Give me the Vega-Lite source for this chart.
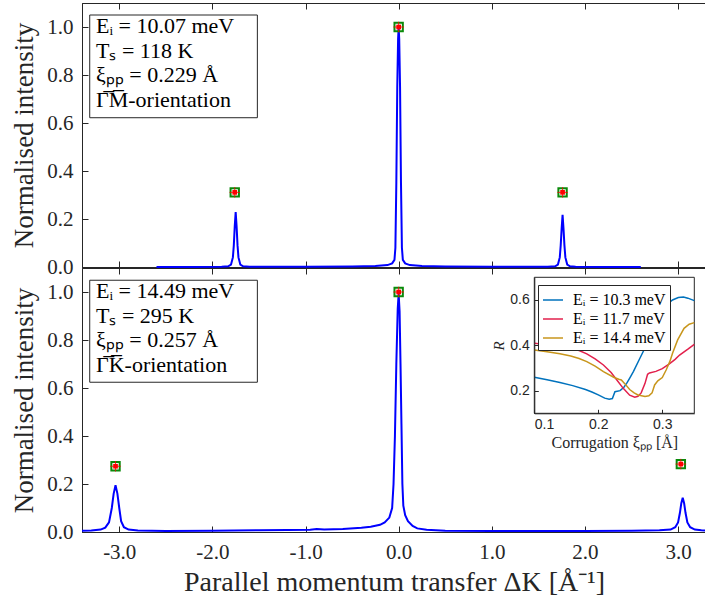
{
  "$schema": "https://vega.github.io/schema/vega-lite/v6.json",
  "background": "white",
  "padding": {"left": 10, "top": 2, "right": 0, "bottom": 0},
  "bounds": "flush",
  "spacing": 1,
  "datasets": {
    "upper": [
      {"k": -2.6, "I": 0}, {"k": -2.2, "I": 0.0005}, {"k": -1.9, "I": 0.001}, {"k": -1.83, "I": 0.003}, {"k": -1.8, "I": 0.01}, {"k": -1.78, "I": 0.04}, {"k": -1.77, "I": 0.09}, {"k": -1.76, "I": 0.17}, {"k": -1.75, "I": 0.229}, {"k": -1.74, "I": 0.17}, {"k": -1.73, "I": 0.09}, {"k": -1.72, "I": 0.04}, {"k": -1.7, "I": 0.01}, {"k": -1.67, "I": 0.003}, {"k": -1.6, "I": 0.001}, {"k": -1.0, "I": 0.001}, {"k": -0.5, "I": 0.002}, {"k": -0.25, "I": 0.004}, {"k": -0.12, "I": 0.008}, {"k": -0.07, "I": 0.015}, {"k": -0.045, "I": 0.03}, {"k": -0.035, "I": 0.08}, {"k": -0.025, "I": 0.35}, {"k": -0.015, "I": 0.75}, {"k": -0.006, "I": 0.95}, {"k": 0, "I": 1.0}, {"k": 0.006, "I": 0.95}, {"k": 0.015, "I": 0.75}, {"k": 0.025, "I": 0.35}, {"k": 0.035, "I": 0.08}, {"k": 0.045, "I": 0.03}, {"k": 0.07, "I": 0.015}, {"k": 0.12, "I": 0.008}, {"k": 0.25, "I": 0.004}, {"k": 0.5, "I": 0.002}, {"k": 1.0, "I": 0.001}, {"k": 1.6, "I": 0.001}, {"k": 1.68, "I": 0.003}, {"k": 1.71, "I": 0.01}, {"k": 1.73, "I": 0.04}, {"k": 1.74, "I": 0.09}, {"k": 1.75, "I": 0.16}, {"k": 1.76, "I": 0.217}, {"k": 1.77, "I": 0.16}, {"k": 1.78, "I": 0.09}, {"k": 1.79, "I": 0.04}, {"k": 1.81, "I": 0.01}, {"k": 1.84, "I": 0.003}, {"k": 1.9, "I": 0.001}, {"k": 2.2, "I": 0.0005}, {"k": 2.6, "I": 0}
    ],
    "lower": [
      {"k": -3.4, "I": 0.005}, {"k": -3.3, "I": 0.006}, {"k": -3.2, "I": 0.01}, {"k": -3.15, "I": 0.018}, {"k": -3.11, "I": 0.04}, {"k": -3.08, "I": 0.1}, {"k": -3.06, "I": 0.16}, {"k": -3.04, "I": 0.195}, {"k": -3.02, "I": 0.16}, {"k": -3.0, "I": 0.1}, {"k": -2.98, "I": 0.045}, {"k": -2.95, "I": 0.02}, {"k": -2.9, "I": 0.01}, {"k": -2.8, "I": 0.006}, {"k": -2.5, "I": 0.004}, {"k": -2.0, "I": 0.005}, {"k": -1.5, "I": 0.007}, {"k": -1.2, "I": 0.008}, {"k": -0.95, "I": 0.009}, {"k": -0.88, "I": 0.012}, {"k": -0.8, "I": 0.01}, {"k": -0.6, "I": 0.013}, {"k": -0.4, "I": 0.018}, {"k": -0.3, "I": 0.022}, {"k": -0.2, "I": 0.03}, {"k": -0.15, "I": 0.04}, {"k": -0.1, "I": 0.06}, {"k": -0.07, "I": 0.1}, {"k": -0.055, "I": 0.2}, {"k": -0.04, "I": 0.4}, {"k": -0.025, "I": 0.7}, {"k": -0.01, "I": 0.93}, {"k": 0, "I": 0.993}, {"k": 0.01, "I": 0.92}, {"k": 0.02, "I": 0.7}, {"k": 0.03, "I": 0.45}, {"k": 0.04, "I": 0.2}, {"k": 0.05, "I": 0.11}, {"k": 0.07, "I": 0.07}, {"k": 0.1, "I": 0.045}, {"k": 0.15, "I": 0.025}, {"k": 0.2, "I": 0.015}, {"k": 0.3, "I": 0.009}, {"k": 0.5, "I": 0.005}, {"k": 1.0, "I": 0.004}, {"k": 1.5, "I": 0.004}, {"k": 2.0, "I": 0.004}, {"k": 2.5, "I": 0.005}, {"k": 2.8, "I": 0.007}, {"k": 2.92, "I": 0.01}, {"k": 2.97, "I": 0.02}, {"k": 3.0, "I": 0.04}, {"k": 3.02, "I": 0.08}, {"k": 3.035, "I": 0.12}, {"k": 3.05, "I": 0.143}, {"k": 3.065, "I": 0.12}, {"k": 3.08, "I": 0.08}, {"k": 3.1, "I": 0.04}, {"k": 3.13, "I": 0.02}, {"k": 3.18, "I": 0.01}, {"k": 3.25, "I": 0.007}, {"k": 3.3, "I": 0.006}
    ],
    "upperPeaks": [{"k": -1.76, "I": 0.311}, {"k": 0, "I": 1.0}, {"k": 1.76, "I": 0.311}],
    "lowerPeaks": [{"k": -3.04, "I": 0.274}, {"k": 0, "I": 1.0}, {"k": 3.03, "I": 0.283}],
    "inset": [
      {"xi": 0.1, "R": 0.259, "E": "Eᵢ = 10.3 meV"}, {"xi": 0.12, "R": 0.248, "E": "Eᵢ = 10.3 meV"}, {"xi": 0.14, "R": 0.236, "E": "Eᵢ = 10.3 meV"}, {"xi": 0.16, "R": 0.222, "E": "Eᵢ = 10.3 meV"}, {"xi": 0.18, "R": 0.205, "E": "Eᵢ = 10.3 meV"}, {"xi": 0.19, "R": 0.194, "E": "Eᵢ = 10.3 meV"}, {"xi": 0.2, "R": 0.181, "E": "Eᵢ = 10.3 meV"}, {"xi": 0.21, "R": 0.167, "E": "Eᵢ = 10.3 meV"}, {"xi": 0.217, "R": 0.162, "E": "Eᵢ = 10.3 meV"}, {"xi": 0.222, "R": 0.165, "E": "Eᵢ = 10.3 meV"}, {"xi": 0.226, "R": 0.195, "E": "Eᵢ = 10.3 meV"}, {"xi": 0.234, "R": 0.2, "E": "Eᵢ = 10.3 meV"}, {"xi": 0.24, "R": 0.215, "E": "Eᵢ = 10.3 meV"}, {"xi": 0.245, "R": 0.235, "E": "Eᵢ = 10.3 meV"}, {"xi": 0.25, "R": 0.26, "E": "Eᵢ = 10.3 meV"}, {"xi": 0.255, "R": 0.285, "E": "Eᵢ = 10.3 meV"}, {"xi": 0.265, "R": 0.343, "E": "Eᵢ = 10.3 meV"}, {"xi": 0.275, "R": 0.4, "E": "Eᵢ = 10.3 meV"}, {"xi": 0.285, "R": 0.468, "E": "Eᵢ = 10.3 meV"}, {"xi": 0.295, "R": 0.53, "E": "Eᵢ = 10.3 meV"}, {"xi": 0.305, "R": 0.575, "E": "Eᵢ = 10.3 meV"}, {"xi": 0.316, "R": 0.6, "E": "Eᵢ = 10.3 meV"}, {"xi": 0.325, "R": 0.611, "E": "Eᵢ = 10.3 meV"}, {"xi": 0.333, "R": 0.613, "E": "Eᵢ = 10.3 meV"}, {"xi": 0.34, "R": 0.608, "E": "Eᵢ = 10.3 meV"}, {"xi": 0.35, "R": 0.597, "E": "Eᵢ = 10.3 meV"},
      {"xi": 0.1, "R": 0.409, "E": "Eᵢ = 11.7 meV"}, {"xi": 0.12, "R": 0.403, "E": "Eᵢ = 11.7 meV"}, {"xi": 0.14, "R": 0.395, "E": "Eᵢ = 11.7 meV"}, {"xi": 0.157, "R": 0.387, "E": "Eᵢ = 11.7 meV"}, {"xi": 0.17, "R": 0.377, "E": "Eᵢ = 11.7 meV"}, {"xi": 0.182, "R": 0.362, "E": "Eᵢ = 11.7 meV"}, {"xi": 0.195, "R": 0.34, "E": "Eᵢ = 11.7 meV"}, {"xi": 0.208, "R": 0.313, "E": "Eᵢ = 11.7 meV"}, {"xi": 0.22, "R": 0.28, "E": "Eᵢ = 11.7 meV"}, {"xi": 0.229, "R": 0.247, "E": "Eᵢ = 11.7 meV"}, {"xi": 0.239, "R": 0.21, "E": "Eᵢ = 11.7 meV"}, {"xi": 0.249, "R": 0.18, "E": "Eᵢ = 11.7 meV"}, {"xi": 0.257, "R": 0.171, "E": "Eᵢ = 11.7 meV"}, {"xi": 0.262, "R": 0.175, "E": "Eᵢ = 11.7 meV"}, {"xi": 0.267, "R": 0.19, "E": "Eᵢ = 11.7 meV"}, {"xi": 0.273, "R": 0.232, "E": "Eᵢ = 11.7 meV"}, {"xi": 0.277, "R": 0.272, "E": "Eᵢ = 11.7 meV"}, {"xi": 0.28, "R": 0.278, "E": "Eᵢ = 11.7 meV"}, {"xi": 0.29, "R": 0.285, "E": "Eᵢ = 11.7 meV"}, {"xi": 0.3, "R": 0.297, "E": "Eᵢ = 11.7 meV"}, {"xi": 0.311, "R": 0.318, "E": "Eᵢ = 11.7 meV"}, {"xi": 0.32, "R": 0.338, "E": "Eᵢ = 11.7 meV"}, {"xi": 0.327, "R": 0.357, "E": "Eᵢ = 11.7 meV"}, {"xi": 0.34, "R": 0.383, "E": "Eᵢ = 11.7 meV"}, {"xi": 0.35, "R": 0.404, "E": "Eᵢ = 11.7 meV"},
      {"xi": 0.1, "R": 0.379, "E": "Eᵢ = 14.4 meV"}, {"xi": 0.12, "R": 0.372, "E": "Eᵢ = 14.4 meV"}, {"xi": 0.14, "R": 0.363, "E": "Eᵢ = 14.4 meV"}, {"xi": 0.157, "R": 0.353, "E": "Eᵢ = 14.4 meV"}, {"xi": 0.17, "R": 0.342, "E": "Eᵢ = 14.4 meV"}, {"xi": 0.182, "R": 0.328, "E": "Eᵢ = 14.4 meV"}, {"xi": 0.195, "R": 0.308, "E": "Eᵢ = 14.4 meV"}, {"xi": 0.208, "R": 0.284, "E": "Eᵢ = 14.4 meV"}, {"xi": 0.224, "R": 0.259, "E": "Eᵢ = 14.4 meV"}, {"xi": 0.232, "R": 0.25, "E": "Eᵢ = 14.4 meV"}, {"xi": 0.236, "R": 0.247, "E": "Eᵢ = 14.4 meV"}, {"xi": 0.241, "R": 0.232, "E": "Eᵢ = 14.4 meV"}, {"xi": 0.249, "R": 0.205, "E": "Eᵢ = 14.4 meV"}, {"xi": 0.256, "R": 0.19, "E": "Eᵢ = 14.4 meV"}, {"xi": 0.262, "R": 0.181, "E": "Eᵢ = 14.4 meV"}, {"xi": 0.273, "R": 0.174, "E": "Eᵢ = 14.4 meV"}, {"xi": 0.279, "R": 0.177, "E": "Eᵢ = 14.4 meV"}, {"xi": 0.284, "R": 0.19, "E": "Eᵢ = 14.4 meV"}, {"xi": 0.288, "R": 0.225, "E": "Eᵢ = 14.4 meV"}, {"xi": 0.293, "R": 0.243, "E": "Eᵢ = 14.4 meV"}, {"xi": 0.3, "R": 0.258, "E": "Eᵢ = 14.4 meV"}, {"xi": 0.306, "R": 0.291, "E": "Eᵢ = 14.4 meV"}, {"xi": 0.312, "R": 0.33, "E": "Eᵢ = 14.4 meV"}, {"xi": 0.316, "R": 0.365, "E": "Eᵢ = 14.4 meV"}, {"xi": 0.324, "R": 0.424, "E": "Eᵢ = 14.4 meV"}, {"xi": 0.334, "R": 0.475, "E": "Eᵢ = 14.4 meV"}, {"xi": 0.342, "R": 0.493, "E": "Eᵢ = 14.4 meV"}, {"xi": 0.35, "R": 0.5, "E": "Eᵢ = 14.4 meV"}
    ]
  },
  "vconcat": [
    {
      "width": 624,
      "height": 264,
      "layer": [
        {
          "layer": [
            {
              "data": {"name": "upper"},
              "mark": {"type": "line", "color": "#0000ff", "strokeWidth": 2},
              "encoding": {
                "x": {"field": "k", "type": "quantitative", "scale": {"domain": [-3.4, 3.3], "nice": false, "zero": false}, "axis": {"values": [-3, -2, -1, 0, 1, 2, 3], "labels": false, "title": null}},
                "y": {"field": "I", "type": "quantitative", "scale": {"domain": [0, 1.1], "nice": false}, "axis": {"values": [0, 0.2, 0.4, 0.6, 0.8, 1.0], "format": ".1f", "title": "Normalised intensity", "titleFontSize": 27, "titlePadding": 8}}
              }
            },
            {
              "data": {"name": "upperPeaks"},
              "mark": {"type": "point", "shape": "square", "filled": false, "stroke": "#0a8a0a", "strokeWidth": 2, "size": 70, "opacity": 1},
              "encoding": {"x": {"field": "k", "type": "quantitative"}, "y": {"field": "I", "type": "quantitative"}}
            },
            {
              "data": {"name": "upperPeaks"},
              "mark": {"type": "point", "shape": "square", "filled": true, "color": "#ff0000", "size": 22, "opacity": 1},
              "encoding": {"x": {"field": "k", "type": "quantitative"}, "y": {"field": "I", "type": "quantitative"}}
            },
            {
              "data": {"name": "upperPeaks"},
              "mark": {"type": "point", "shape": "M-1,0H1M0,-1V1", "filled": false, "stroke": "#ff0000", "strokeWidth": 1, "size": 110, "opacity": 0.8},
              "encoding": {"x": {"field": "k", "type": "quantitative"}, "y": {"field": "I", "type": "quantitative"}}
            },
            {
              "data": {"values": [{}]},
              "mark": {"type": "rect", "fill": "white", "stroke": "#262626", "strokeWidth": 1},
              "encoding": {"x": {"datum": -3.317, "type": "quantitative"}, "x2": {"datum": -1.517}, "y": {"datum": 1.05, "type": "quantitative"}, "y2": {"datum": 0.622}}
            },
            {
              "data": {"values": [{}]},
              "mark": {"type": "text", "align": "left", "baseline": "alphabetic", "font": "Liberation Serif", "fontSize": 22, "lineHeight": 24.5, "color": "#000000", "text": ["Eᵢ = 10.07 meV", "Tₛ = 118 K", "ξₚₚ = 0.229 Å", "Γ̅M̅-orientation"]},
              "encoding": {"x": {"datum": -3.25, "type": "quantitative"}, "y": {"datum": 0.975, "type": "quantitative"}}
            }
          ]
        },
        {
          "data": {"values": [{}]},
          "mark": {"type": "point", "opacity": 0},
          "encoding": {
            "x": {"datum": 0, "type": "quantitative", "scale": {"domain": [-3.4, 3.3], "nice": false, "zero": false}, "axis": {"orient": "top", "values": [-3, -2, -1, 0, 1, 2, 3], "labels": false, "title": null}},
            "y": {"datum": 0, "type": "quantitative"}
          }
        }
      ],
      "resolve": {"axis": {"x": "independent"}}
    },
    {
      "width": 624,
      "height": 264,
      "layer": [
        {
          "layer": [
            {
              "data": {"name": "lower"},
              "mark": {"type": "line", "color": "#0000ff", "strokeWidth": 2},
              "encoding": {
                "x": {"field": "k", "type": "quantitative", "scale": {"domain": [-3.4, 3.3], "nice": false, "zero": false}, "axis": {"values": [-3, -2, -1, 0, 1, 2, 3], "labelExpr": "datum.value < 0 ? '-' + format(-datum.value, '.1f') : format(datum.value, '.1f')", "title": "Parallel momentum transfer ΔK [Å⁻¹]", "titleFontSize": 28, "titlePadding": 6}},
                "y": {"field": "I", "type": "quantitative", "scale": {"domain": [0, 1.1], "nice": false}, "axis": {"values": [0, 0.2, 0.4, 0.6, 0.8, 1.0], "format": ".1f", "title": "Normalised intensity", "titleFontSize": 27, "titlePadding": 8}}
              }
            },
            {
              "data": {"name": "lowerPeaks"},
              "mark": {"type": "point", "shape": "square", "filled": false, "stroke": "#0a8a0a", "strokeWidth": 2, "size": 70, "opacity": 1},
              "encoding": {"x": {"field": "k", "type": "quantitative"}, "y": {"field": "I", "type": "quantitative"}}
            },
            {
              "data": {"name": "lowerPeaks"},
              "mark": {"type": "point", "shape": "square", "filled": true, "color": "#ff0000", "size": 22, "opacity": 1},
              "encoding": {"x": {"field": "k", "type": "quantitative"}, "y": {"field": "I", "type": "quantitative"}}
            },
            {
              "data": {"name": "lowerPeaks"},
              "mark": {"type": "point", "shape": "M-1,0H1M0,-1V1", "filled": false, "stroke": "#ff0000", "strokeWidth": 1, "size": 110, "opacity": 0.8},
              "encoding": {"x": {"field": "k", "type": "quantitative"}, "y": {"field": "I", "type": "quantitative"}}
            },
            {
              "data": {"values": [{}]},
              "mark": {"type": "rect", "fill": "white", "stroke": "#262626", "strokeWidth": 1},
              "encoding": {"x": {"datum": -3.317, "type": "quantitative"}, "x2": {"datum": -1.517}, "y": {"datum": 1.049, "type": "quantitative"}, "y2": {"datum": 0.624}}
            },
            {
              "data": {"values": [{}]},
              "mark": {"type": "text", "align": "left", "baseline": "alphabetic", "font": "Liberation Serif", "fontSize": 22, "lineHeight": 24.5, "color": "#000000", "text": ["Eᵢ = 14.49 meV", "Tₛ = 295 K", "ξₚₚ = 0.257 Å", "Γ̅K̅-orientation"]},
              "encoding": {"x": {"datum": -3.25, "type": "quantitative"}, "y": {"datum": 0.975, "type": "quantitative"}}
            }
          ]
        },
        {
          "data": {"values": [{}]},
          "mark": {"type": "point", "opacity": 0},
          "encoding": {
            "x": {"datum": 0, "type": "quantitative", "scale": {"domain": [-3.4, 3.3], "nice": false, "zero": false}, "axis": {"orient": "top", "values": [-3, -2, -1, 0, 1, 2, 3], "labels": false, "title": null}},
            "y": {"datum": 0, "type": "quantitative", "scale": {"domain": [0, 1.1], "nice": false}, "axis": null}
          }
        },
        {
          "layer": [
            {
              "data": {"values": [{}]},
              "mark": {"type": "rect", "fill": "white", "stroke": "#262626", "strokeWidth": 1},
              "encoding": {"x": {"datum": 0.1, "type": "quantitative"}, "x2": {"datum": 0.35}, "y": {"datum": 0.1, "type": "quantitative"}, "y2": {"datum": 0.7}}
            },
            {
              "data": {"name": "inset"},
              "mark": {"type": "line", "strokeWidth": 1.5},
              "encoding": {
                "x": {"field": "xi", "type": "quantitative", "scale": {"domain": [0.1, 0.35], "range": [452.3, 612.3], "nice": false, "zero": false}, "axis": {"orient": "bottom", "offset": -118.7, "values": [0.1, 0.2, 0.3], "format": ".1f", "title": "Corrugation ξₚₚ [Å]", "titleFontSize": 16, "titlePadding": 3, "labelFont": "Liberation Sans", "labelFontSize": 14, "tickSize": -4, "labelPadding": 8, "zindex": 2}},
                "y": {"field": "R", "type": "quantitative", "scale": {"domain": [0.1, 0.7], "range": [145.3, 9.3], "nice": false, "zero": false}, "axis": {"orient": "left", "offset": -452.3, "values": [0.2, 0.4, 0.6], "format": ".1f", "title": "R", "titleFontStyle": "italic", "titleFontSize": 15, "titlePadding": 3, "labelFont": "Liberation Sans", "labelFontSize": 14, "tickSize": -4, "labelPadding": 9, "zindex": 2}},
                "color": {"field": "E", "type": "nominal", "scale": {"domain": ["Eᵢ = 10.3 meV", "Eᵢ = 11.7 meV", "Eᵢ = 14.4 meV"], "range": ["#0072BD", "#E2204C", "#C8961C"]}, "legend": {"orient": "none", "legendX": 456, "legendY": 282, "title": null, "fillColor": "white", "strokeColor": "#262626", "padding": 4, "labelFont": "Liberation Serif", "labelFontSize": 16, "labelColor": "#000000", "symbolType": "stroke", "symbolSize": 400, "symbolStrokeWidth": 1.5, "rowPadding": 0, "labelOffset": 9}}
              }
            }
          ]
        }
      ],
      "resolve": {"scale": {"x": "independent", "y": "independent"}, "axis": {"x": "independent", "y": "independent"}}
    }
  ],
  "config": {
    "view": {"stroke": "#262626", "strokeWidth": 1},
    "axis": {"grid": false, "domainColor": "#262626", "tickColor": "#262626", "labelColor": "#262626", "titleColor": "#262626", "tickSize": -6, "labelPadding": 15, "labelFont": "Liberation Serif", "labelFontSize": 21, "titleFont": "Liberation Serif", "titleFontWeight": "normal", "domainWidth": 1, "tickWidth": 1}
  }
}
